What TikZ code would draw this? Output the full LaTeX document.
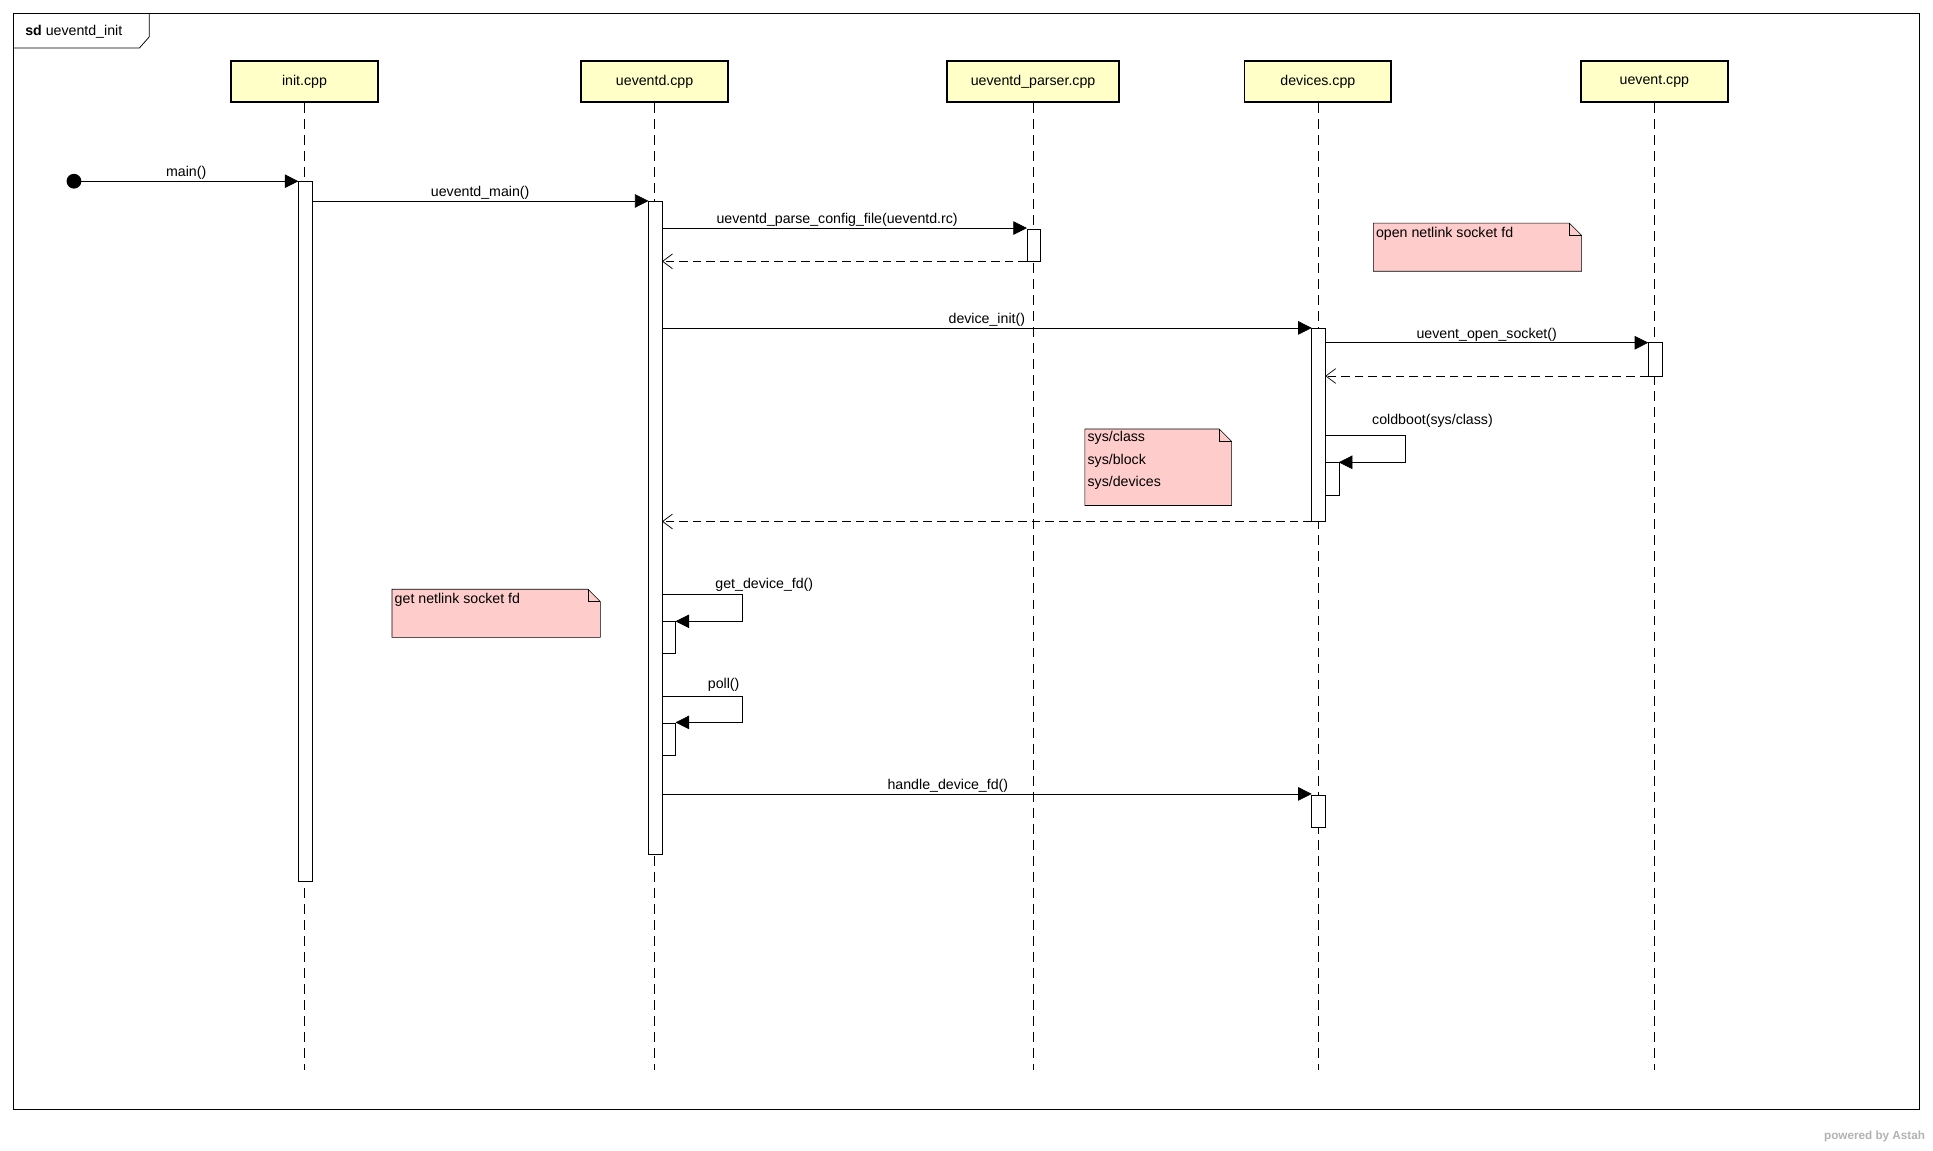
\documentclass[tikz,border=0pt]{standalone}
\usepackage{fontspec}
\setmainfont{Liberation Sans}
\usetikzlibrary{arrows.meta}
\definecolor{head}{HTML}{FFFFC8}
\definecolor{note}{HTML}{FFCCCC}
\begin{document}
\begin{tikzpicture}[x=1pt,y=-1pt,font=\fontsize{11.5}{14}\selectfont,
 life/.style={draw,line width=1.6pt,fill=head,minimum width=119pt,minimum height=33pt,inner sep=0pt},
 ll/.style={dash pattern=on 8pt off 5pt,line width=0.5pt},
 act/.style={draw,fill=white,line width=0.5pt},
 msg/.style={-{Triangle[length=11pt,width=11pt]},line width=0.6pt},
 ret/.style={-{Straight Barb[length=8pt,width=12pt]},dash pattern=on 7pt off 4pt,line width=0.6pt},
 lbl/.style={above,inner sep=1pt}]
\useasboundingbox (0,0) rectangle (1568,933);
\fill[white] (0,0) rectangle (1568,933);
\draw[line width=0.6pt] (11,11) rectangle (1557,900);
\draw[line width=0.6pt] (11,39) -- (113,39) -- (121,30) -- (121,11);
\node[anchor=west] (t) at (17,26) {\textbf{sd} ueventd\_init};
% lifelines
\foreach \n/\x/\t/\w in {a/247/init.cpp/119,b/531/ueventd.cpp/119,c/838/ueventd\_parser.cpp/139,d/1069/devices.cpp/119,e/1342/uevent.cpp/119}{
 \node[life,minimum width=\w pt] (\n) at (\x,66) {\t};
 \coordinate (\n end) at (\x,868);
 \draw[ll] (\n.south) -- (\n end);
}
% activations
\draw[act] (242,147) rectangle (253,715);
\draw[act] (526,163) rectangle (537,693);
\draw[act] (833,186) rectangle (844,212);
\draw[act] (1064,266) rectangle (1075,423);
\draw[act] (1337,278) rectangle (1348,305);
\draw[act] (1075,375) rectangle (1086,402);
\draw[act] (537,504) rectangle (548,530);
\draw[act] (537,587) rectangle (548,613);
\draw[act] (1064,645) rectangle (1075,671);
% messages
\fill (60,147) circle (6pt);
\draw[msg] (60,147) -- node[lbl]{main()} (242,147);
\draw[msg] (253,163) -- node[lbl]{ueventd\_main()} (526,163);
\draw[msg] (537,185) -- node[lbl,pos=0.48]{ueventd\_parse\_config\_file(ueventd.rc)} (833,185);
\draw[ret] (833,212) -- (537,212);
\draw[msg] (537,266) -- node[lbl,pos=0.5]{device\_init()} (1064,266);
\draw[msg] (1075,278) -- node[lbl]{uevent\_open\_socket()} (1337,278);
\draw[ret] (1337,305) -- (1075,305);
\draw[msg] (1075,353) -- (1140,353) -- (1140,375) -- (1086,375);
\node[lbl] (l1) at (1162,348) {coldboot(sys/class)};
\draw[ret] (1064,423) -- (537,423);
\draw[msg] (537,482) -- (602,482) -- (602,504) -- (548,504);
\node[lbl] (l2) at (620,481) {get\_device\_fd()};
\draw[msg] (537,565) -- (602,565) -- (602,586) -- (548,586);
\node[lbl] (l3) at (587,562) {poll()};
\draw[msg] (537,644) -- node[lbl,pos=0.44]{handle\_device\_fd()} (1064,644);
% notes
\foreach \x/\y/\X/\Y in {1114/181/1283/220,880/348/999/410,318/478/487/517}{
 \draw[fill=note,line width=0.5pt] (\x,\y) -- (\X-10,\y) -- (\X,\y+10) -- (\X,\Y) -- (\x,\Y) -- cycle;
 \draw[line width=0.5pt] (\X-10,\y) -- (\X-10,\y+10) -- (\X,\y+10);
}
\node[anchor=north west,inner sep=2pt] (n1) at (1114,182) {open netlink socket fd};
\node[anchor=north west,inner sep=2pt,align=left,font=\fontsize{11.5}{18}\selectfont] (n2) at (880,348) {sys/class\\sys/block\\sys/devices};
\node[anchor=north west,inner sep=2pt] (n3) at (318,479) {get netlink socket fd};
\node[anchor=east,text=gray!60,font=\fontsize{9.5}{11}\selectfont\bfseries] (pw) at (1565,922) {powered by Astah};
\end{tikzpicture}
\end{document}
